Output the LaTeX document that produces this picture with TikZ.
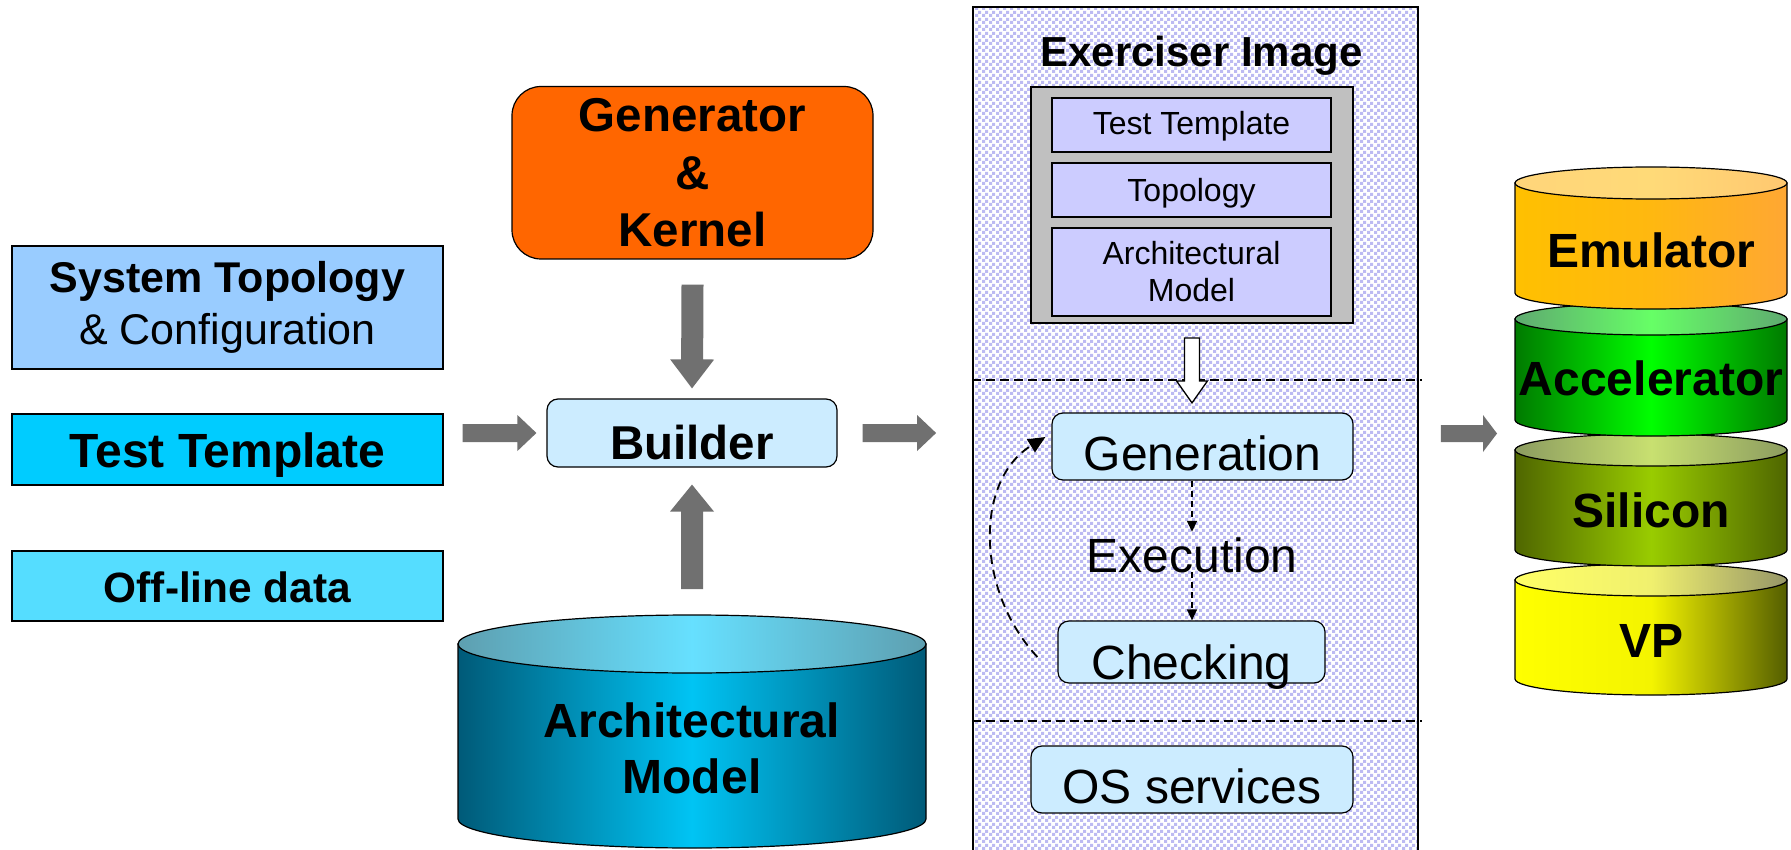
\documentclass[tikz,border=0pt]{standalone}
\usepackage{fontspec}
\setmainfont{Liberation Sans}
\usetikzlibrary{arrows.meta,calc,patterns}

% palette
\definecolor{arrowgrey}{RGB}{112,112,112}
\definecolor{paleblue}{RGB}{204,236,255}
\definecolor{topoblue}{RGB}{153,204,255}
\definecolor{ttcyan}{RGB}{0,204,255}
\definecolor{offcyan}{RGB}{85,221,255}
\definecolor{genorange}{RGB}{255,102,0}
\definecolor{lilac}{RGB}{204,204,255}
\definecolor{greybox}{RGB}{192,192,192}
\definecolor{dotlilac}{RGB}{188,186,242}

% checkered dots for the exerciser panel
\pgfdeclarepatternformonly{lilacdots}{\pgfpointorigin}{\pgfqpoint{6.5pt}{6.5pt}}{\pgfqpoint{6.5pt}{6.5pt}}{%
  \pgfpathrectangle{\pgfqpoint{0pt}{0pt}}{\pgfqpoint{3.25pt}{3.25pt}}%
  \pgfpathrectangle{\pgfqpoint{3.25pt}{3.25pt}}{\pgfqpoint{3.25pt}{3.25pt}}%
  \pgfusepath{fill}}

% shaded drum: cx, rx, y of top, y of bottom, ry, body shading, lid shading
\newcommand{\drum}[7]{%
  \shadedraw[line width=1.2pt,#6] (#1-#2,#3) -- (#1-#2,#4)
    arc[start angle=180,end angle=0,x radius=#2,y radius=#5] -- (#1+#2,#3) -- cycle;
  \shadedraw[line width=1.2pt,#7] (#1,#3) ellipse[x radius=#2,y radius=#5];
}

% broad grey arrow: from, to, half shaft, half head, head length
\newcommand{\blockarrow}[5]{%
  \path ($(#2)!#5!(#1)$) coordinate (ba-base);
  \fill[arrowgrey] ($(#1)!#3!90:(#2)$) -- ($(ba-base)!#3!90:(#2)$) -- ($(ba-base)!#4!90:(#2)$)
    -- (#2) -- ($(ba-base)!#4!-90:(#2)$) -- ($(ba-base)!#3!-90:(#2)$) -- ($(#1)!#3!-90:(#2)$) -- cycle;
}

\tikzset{
  box/.style={draw=black, line width=1.2pt, inner sep=0pt, align=center},
  rbox/.style={box, fill=paleblue, rounded corners=11pt},
  raise/.style={text height=#1, text depth=0pt},
  dasharrow/.style={draw=black, line width=1.5pt, dash pattern=on 6pt off 4pt,
    -{Triangle[length=11pt,width=10pt]}},
  sepline/.style={draw=black, line width=1.2pt, dash pattern=on 9pt off 5pt},
  stacklabel/.style={anchor=base, font=\fontsize{48}{56}\selectfont\bfseries},
  innerfont/.style={font=\fontsize{32}{37}\selectfont},
}

\begin{document}
\begin{tikzpicture}[x=1pt,y=-1pt,font=\fontsize{48}{56}\selectfont]
\path[use as bounding box, fill=white] (0,0) rectangle (1791,850);

% ---------- inputs on the left ----------
\node[box, fill=topoblue, minimum width=431, minimum height=123,
      font=\fontsize{43}{52}\selectfont] (topo) at (227.5,307.5)
      {\textbf{System Topology}\\\& Configuration};
\node[box, fill=ttcyan, minimum width=431, minimum height=71,
      font=\fontsize{48}{56}\selectfont\bfseries, raise=35pt] (tmpl) at (227.5,449.5) {Test Template};
\node[box, fill=offcyan, minimum width=431, minimum height=70,
      font=\fontsize{42.4}{50}\selectfont\bfseries, raise=32pt] (offl) at (227.5,586) {Off-line data};

% ---------- generator, builder, model ----------
\node[box, fill=genorange, rounded corners=29pt, minimum width=361, minimum height=172.5,
      font=\fontsize{47.5}{57.5}\selectfont\bfseries] (gen) at (692.5,172.75) {Generator\\\&\\Kernel};
\node[rbox, minimum width=290, minimum height=68,
      font=\fontsize{47.5}{56}\selectfont\bfseries, raise=52pt] (builder) at (692,433) {Builder};

\drum{692}{234}{644}{819}{29}
  {left color={rgb,255:red,0;green,90;blue,120}, right color={rgb,255:red,0;green,90;blue,120}, middle color={rgb,255:red,0;green,196;blue,244}}
  {left color={rgb,255:red,94;green,159;blue,176}, right color={rgb,255:red,94;green,159;blue,176}, middle color={rgb,255:red,102;green,224;blue,255}}
\coordinate (archtop) at (692,615);
\node[align=center, font=\fontsize{48}{56}\selectfont\bfseries] (archm) at (692,748) {Architectural\\Model};

% ---------- exerciser image panel ----------
\node[draw=black, line width=1.8pt, pattern=lilacdots, pattern color=dotlilac,
      minimum width=445, minimum height=853, inner sep=0pt] (panel) at (1195.5,433.5) {};
\coordinate (cut1) at (0,380);
\coordinate (cut2) at (0,721);
\draw[sepline] (panel.west |- cut1) -- ([xshift=3pt]panel.east |- cut1);
\draw[sepline] (panel.west |- cut2) -- ([xshift=3pt]panel.east |- cut2);

\node[anchor=base, font=\fontsize{42}{50}\selectfont\bfseries] (title) at (1201.5,67) {Exerciser Image};
\node[box, fill=greybox, line width=1.8pt, minimum width=322, minimum height=236] (img) at (1192,205) {};
\node[box, fill=lilac, minimum width=279, minimum height=54, innerfont, raise=20pt] (imgtt) at (1191.5,125) {Test Template};
\node[box, fill=lilac, minimum width=279, minimum height=54, innerfont, raise=24pt] (imgtopo) at (1191.5,190) {Topology};
\node[box, fill=lilac, minimum width=279, minimum height=88, innerfont] (imgarch) at (1191.5,272) {Architectural\\Model};

% hollow arrow from the image into the run loop
\draw[line width=1.3pt, fill=white, line join=miter]
  ($(img.south)+(-7.5,14)$) -- ($(img.south)+(-7.5,57)$) -- ($(img.south)+(-15.5,57)$)
  -- ($(img.south)+(0,79)$) -- ($(img.south)+(15.5,57)$) -- ($(img.south)+(7.5,57)$)
  -- ($(img.south)+(7.5,14)$) -- cycle;

\node[rbox, minimum width=301, minimum height=67, raise=47pt] (genr) at (1202.5,446.5) {Generation};
\node[inner sep=0pt, raise=33pt] (exec) at (1192,555.5) {Execution};
\node[rbox, minimum width=267, minimum height=62, raise=54pt] (chk) at (1191.5,652) {Checking};
\node[rbox, minimum width=322, minimum height=67, raise=47pt] (os) at (1192,779.5) {OS services};

\draw[dasharrow, shorten >=7pt] (exec.north |- genr.south) -- (exec.north);
\draw[dasharrow] (exec.south) -- (exec.south |- chk.north);
\draw[dasharrow, line width=1.8pt, dash pattern=on 9pt off 6pt, -{Triangle[length=17pt,width=15pt]}]
  ($(chk.west)+(-20,5)$) .. controls (975,590) and (975,480) .. ($(genr.west)+(-6,-9.5)$);

% ---------- target platforms ----------
\drum{1651}{136}{580}{679}{16}
  {left color={rgb,255:red,255;green,255;blue,0}, right color={rgb,255:red,84;green,94;blue,0}, middle color={rgb,255:red,244;green,244;blue,0}}
  {left color={rgb,255:red,255;green,255;blue,102}, right color={rgb,255:red,150;green,150;blue,104}, middle color={rgb,255:red,240;green,240;blue,110}}
\drum{1651}{136}{450}{550}{16}
  {left color={rgb,255:red,79;green,102;blue,0}, right color={rgb,255:red,79;green,102;blue,0}, middle color={rgb,255:red,153;green,204;blue,0}}
  {left color={rgb,255:red,140;green,156;blue,96}, right color={rgb,255:red,140;green,156;blue,96}, middle color={rgb,255:red,200;green,224;blue,112}}
\drum{1651}{136}{319}{420}{16}
  {left color={rgb,255:red,0;green,122;blue,0}, right color={rgb,255:red,0;green,122;blue,0}, middle color={rgb,255:red,0;green,255;blue,0}}
  {left color={rgb,255:red,95;green,170;blue,112}, right color={rgb,255:red,95;green,170;blue,112}, middle color={rgb,255:red,102;green,255;blue,102}}
\drum{1651}{136}{183}{293}{16}
  {left color={rgb,255:red,255;green,192;blue,0}, right color={rgb,255:red,255;green,167;blue,51}, middle color={rgb,255:red,255;green,184;blue,16}}
  {left color={rgb,255:red,255;green,213;blue,122}, right color={rgb,255:red,255;green,200;blue,112}, middle color={rgb,255:red,255;green,218;blue,120}}
\node[stacklabel] (emu) at (1651,268) {Emulator};
\node[stacklabel] (acc) at (1651,395) {Accelerator};
\node[stacklabel] (sil) at (1651,527) {Silicon};
\node[stacklabel] (vp)  at (1651,657) {VP};
\coordinate (stackin) at (1515,433.5);

% ---------- block arrows ----------
\coordinate (a1s) at ($(tmpl.east |- builder.west)+(19,0)$);
\coordinate (a1e) at ($(builder.west)+(-10,0)$);
\coordinate (a2s) at ($(gen.south)+(0,25)$);
\coordinate (a2e) at ($(builder.north)+(0,-10)$);
\coordinate (a3s) at ($(archtop)+(0,-26)$);
\coordinate (a3e) at ($(builder.south)+(0,17)$);
\coordinate (a4s) at ($(builder.east)+(25,0)$);
\coordinate (a4e) at ($(builder.east -| panel.west)+(-36,0)$);
\coordinate (a5s) at ($(panel.east |- stackin)+(22,0)$);
\coordinate (a5e) at ($(stackin)+(-18,0)$);
\blockarrow{a1s}{a1e}{9pt}{18pt}{19pt}
\blockarrow{a2s}{a2e}{11pt}{22pt}{29pt}
\blockarrow{a3s}{a3e}{11pt}{22pt}{27pt}
\blockarrow{a4s}{a4e}{9pt}{18pt}{19pt}
\blockarrow{a5s}{a5e}{8.5pt}{18.5pt}{14pt}
\end{tikzpicture}
\end{document}
